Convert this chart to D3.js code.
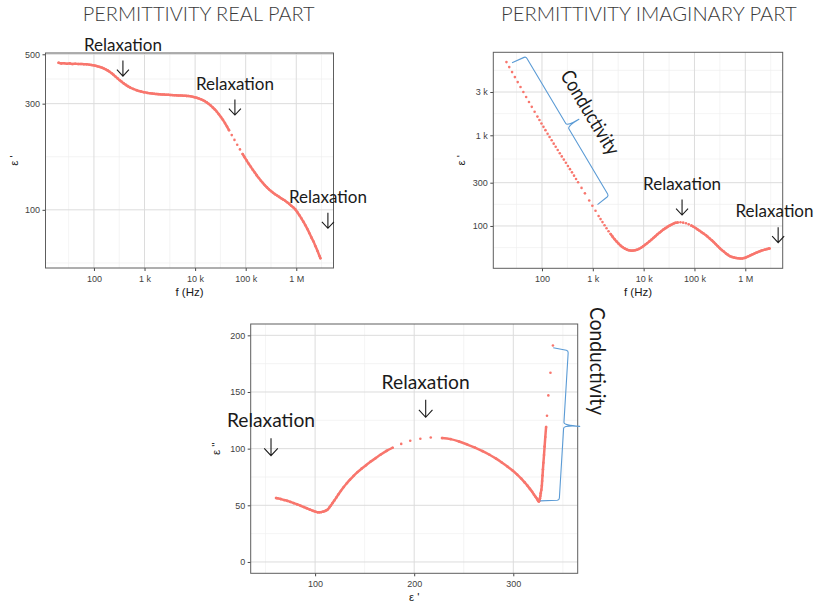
<!DOCTYPE html>
<html>
<head>
<meta charset="utf-8">
<title>Permittivity spectra</title>
<script src="https://cdn.jsdelivr.net/npm/d3@7/dist/d3.min.js"></script>
<style>
  html, body { margin: 0; padding: 0; background: #ffffff; }
  svg { display: block; }
</style>
</head>
<body>
<svg id="chart" width="815" height="608"></svg>
<script>
// ---- measured frequency sweep ----
const frequency = [
  20, 22.7, 25.8, 29.3, 33.3, 37.8, 43, 48.8, 55.5, 63, 71.6, 81.3,
  89.1, 97.7, 107, 117, 129, 141, 155, 170, 186, 204, 224, 245, 269, 295, 324, 355, 389, 427, 468, 513,
  600, 700, 850, 980, 1130,
  1300, 1420, 1550, 1700, 1860, 2040, 2240, 2450, 2690, 2950, 3240, 3550, 3890, 4270, 4680, 5130, 5620,
  6170, 6760, 7410, 8130, 8910, 9770, 10700, 11700, 12900, 14100, 15500, 17000, 18600, 20400, 22400,
  24500, 26900, 29500, 32400, 35500, 38900, 42700, 46800,
  53000, 60000, 68000, 77000, 87000,
  95500, 105000, 115000, 126000, 138000, 151000, 166000, 182000, 200000, 219000, 240000, 263000, 288000,
  316000, 347000, 380000, 417000, 457000, 501000, 550000, 603000, 661000, 724000, 794000, 871000, 955000,
  1050000, 1150000, 1260000, 1380000, 1510000, 1660000, 1820000, 2000000, 2190000, 2400000, 2630000,
  2880000, 3000000
];

// real part of the permittivity, eps'
const epsReal = [
  458, 455, 456, 453.5, 455, 452.5, 453.5, 452, 452.5, 451, 450.5, 449,
  447.9, 446.5, 444.4, 442.0, 438.8, 436.1, 432.3, 428.1, 423.2, 417.5, 410.9, 403.9, 396.4, 389.3, 382.2,
  376.0, 370.0, 364.4, 359.5, 355.1,
  349.3, 344.6, 340.0, 337.5, 335.4,
  334.0, 333.1, 332.3, 331.6, 331.0, 330.4, 329.9, 329.5, 329.1, 328.8, 328.3, 327.7, 327.3, 326.9, 326.6,
  326.3, 326.0, 325.6, 325.1, 324.6, 323.8, 322.4, 320.8, 319.0, 316.8, 314.2, 311.5, 308.0, 303.9, 299.3,
  294.0, 288.4, 282.6, 276.0, 269.0, 261.3, 253.6, 245.3, 236.8, 228.1,
  216.7, 206.2, 196.0, 186.9, 178.2,
  172.1, 166.3, 161.0, 156.1, 151.4, 147.1, 142.8, 138.9, 135.2, 132.0, 128.9, 126.1, 123.6, 121.4, 119.4,
  117.6, 115.9, 114.3, 112.8, 111.3, 109.8, 108.1, 106.3, 104.3, 102.6, 100.5, 97.6, 94.6, 91.6, 88.5,
  85.3, 81.9, 78.5, 75.0, 72.0, 68.6, 65.3, 62.0, 60.6
];

// imaginary part of the permittivity, eps''
const epsImag = [
  6409, 5649, 4973, 4382, 3859, 3403, 2996, 2644, 2330, 2059, 1818, 1608,
  1473, 1349, 1238, 1139, 1040, 959, 880, 809, 746, 687, 633, 585, 539, 498, 458, 423, 390, 359, 330, 304,
  263, 229, 191, 167, 147,
  129, 119, 110.3, 101.8, 94.4, 87.6, 81.5, 76.2, 71.4, 67.2, 63.6, 60.6, 58.2, 56.3, 54.9, 54.0, 53.5,
  53.5, 53.9, 54.7, 55.9, 57.6, 59.6, 61.9, 64.5, 67.4, 70.2, 73.6, 77.1, 80.7, 84.3, 87.8, 91.2, 94.6,
  97.8, 100.9, 103.6, 106.3, 108.4, 109.3,
  109.8, 108.8, 107.0, 104.2, 100.8,
  98.0, 94.8, 91.6, 88.6, 85.4, 82.4, 79.3, 76.0, 72.6, 69.5, 66.2, 62.9, 59.8, 56.8, 54.2, 52.0, 49.8,
  48.0, 46.4, 45.5, 44.9, 44.4, 44.0, 43.8, 43.8, 44.3, 45.2, 46.3, 47.4, 48.5, 49.6, 50.8, 51.9, 53.0,
  53.9, 54.7, 55.5, 56.2, 56.5
];

// ---- axis breaks ----
const freqTicks = [1e2, 1e3, 1e4, 1e5, 1e6];
const freqTickLabels = ["100", "1 k", "10 k", "100 k", "1 M"];
const realTicks = [100, 300, 500];
const realTickLabels = ["100", "300", "500"];
const imagTicks = [100, 300, 1000, 3000];
const imagTickLabels = ["100", "300", "1 k", "3 k"];
const coleLimitsX = [50, 350];
const coleLimitsY = [0, 200];
const coleTicksX = [100, 200, 300];
const coleTicksY = [0, 50, 100, 150, 200];

// ---- annotations, in the data units of each panel ----
const realRelaxations = [{f: 374, v: 399}, {f: 61200, v: 266.7}, {f: 4.22e6, v: 82.6}];
const imagRelaxations = [{f: 57000, v: 132}, {f: 4.43e6, v: 65.5}];
const coleRelaxations = [{x: 55.5, y: 93.8}, {x: 211.6, y: 127.7}];
const imagConductivity = {start: {f: 48.4, v: 7355}, end: {f: 2050, v: 216}, label: {f: 893, v: 1788}};
const coleConductivity = {start: {x: 355.5, y: 186.4}, end: {x: 346.4, y: 54.7}, label: {x: 384.5, y: 177.3}};

// ---- presentation ----
const W = 815;
const POINT = "#F8766D";
const BRACE = "#5B9BD5";
const INK = "#1a1a1a";
const SLIDE_FONT = "Lato, 'Open Sans', 'Noto Sans', sans-serif";
const AXIS_FONT = "'Liberation Sans', Arial, sans-serif";

const layout = {
  real: {x0: 45.5, x1: 333.5, y0: 53, y1: 268, titleGap: 32},
  imag: {x0: 493.3, x1: 782.7, y0: 52.3, y1: 268.3, titleGap: 32},
  cole: {x0: 250.7, x1: 577.7, y0: 324, y1: 573.3, titleGap: 34.5}
};

const svg = d3.select("#chart");
const defs = svg.append("defs");

function expandLog(values) {
  const lo = Math.log10(d3.min(values)), hi = Math.log10(d3.max(values));
  const pad = (hi - lo) * 0.05;
  return [Math.pow(10, lo - pad), Math.pow(10, hi + pad)];
}
function expandLin([a, b]) {
  const pad = (b - a) * 0.05;
  return [a - pad, b + pad];
}

// minor breaks half-way between majors (in transformed space), extended one step past each end
function minorBreaks(majors, domain, fwd, inv) {
  const b = majors.map(fwd);
  const step = b[1] - b[0];
  const t = domain.map(fwd);
  const lo = Math.min(t[0], t[1]), hi = Math.max(t[0], t[1]);
  const ext = b.slice();
  if (lo < b[0]) ext.unshift(b[0] - step);
  if (hi > b[b.length - 1]) ext.push(b[b.length - 1] + step);
  return d3.pairs(ext, (a, c) => (a + c) / 2).filter(m => m > lo && m < hi).map(inv);
}
const LOG = [Math.log10, v => Math.pow(10, v)];
const LIN = [v => v, v => v];

function drawFrame(key, x, y, spec) {
  const L = layout[key];
  const g = svg.append("g").attr("class", "frame-" + key);

  const xMinor = minorBreaks(spec.xTicks, x.domain(), ...spec.xT);
  const yMinor = minorBreaks(spec.yTicks, y.domain(), ...spec.yT);

  const vLines = (vals, color, w) => g.append("g").selectAll("line").data(vals).join("line")
    .attr("x1", d => x(d)).attr("x2", d => x(d)).attr("y1", L.y0).attr("y2", L.y1)
    .attr("stroke", color).attr("stroke-width", w);
  const hLines = (vals, color, w) => g.append("g").selectAll("line").data(vals).join("line")
    .attr("y1", d => y(d)).attr("y2", d => y(d)).attr("x1", L.x0).attr("x2", L.x1)
    .attr("stroke", color).attr("stroke-width", w);
  vLines(xMinor, "#EFEFEF", 0.7);
  hLines(yMinor, "#EFEFEF", 0.7);
  vLines(spec.xTicks, "#DCDCDC", 1);
  hLines(spec.yTicks, "#DCDCDC", 1);

  const xAxis = g.append("g").attr("transform", `translate(0,${L.y1})`)
    .call(d3.axisBottom(x).tickValues(spec.xTicks).tickFormat((d, i) => spec.xLabels[i])
      .tickSize(3).tickSizeOuter(0).tickPadding(4.5));
  const yAxis = g.append("g").attr("transform", `translate(${L.x0},0)`)
    .call(d3.axisLeft(y).tickValues(spec.yTicks).tickFormat((d, i) => spec.yLabels[i])
      .tickSize(3).tickSizeOuter(0).tickPadding(2.5));
  [xAxis, yAxis].forEach(a => {
    a.select(".domain").remove();
    a.selectAll(".tick line").attr("stroke", "#333333").attr("stroke-width", 0.9);
    a.selectAll(".tick text").attr("font-family", AXIS_FONT).attr("font-size", 9).attr("fill", "#3f3f3f");
  });

  g.append("text").attr("x", (L.x0 + L.x1) / 2).attr("y", L.y1 + 27.5)
    .attr("text-anchor", "middle").attr("font-family", AXIS_FONT).attr("font-size", 11.5)
    .attr("fill", INK).text(spec.xTitle);
  g.append("text")
    .attr("transform", `translate(${L.x0 - L.titleGap},${(L.y0 + L.y1) / 2}) rotate(-90)`)
    .attr("text-anchor", "middle").attr("dy", "0.35em").attr("font-family", AXIS_FONT)
    .attr("font-size", 11.5).attr("fill", INK).text(spec.yTitle);

  defs.append("clipPath").attr("id", "clip-" + key).append("rect")
    .attr("x", L.x0).attr("y", L.y0).attr("width", L.x1 - L.x0).attr("height", L.y1 - L.y0);
  const marks = svg.append("g").attr("clip-path", `url(#clip-${key})`);
  svg.append("rect").attr("x", L.x0).attr("y", L.y0).attr("width", L.x1 - L.x0)
    .attr("height", L.y1 - L.y0).attr("fill", "none").attr("stroke", "#5E5E5E").attr("stroke-width", 1);
  return marks;
}

// readings of one sweep: closely spaced readings merge into a trace; readings stay
// single points where they sit far apart on screen, or where the frequency step is
// coarse and the on-screen gap exceeds coarseGap
function drawSweep(g, pts, {maxGap, coarseStep, coarseGap}) {
  const runs = [];
  let cur = [pts[0]];
  for (let i = 1; i < pts.length; i++) {
    const a = pts[i - 1], b = pts[i];
    const step = Math.log10(b.f) - Math.log10(a.f);
    const gap = Math.hypot(b.px - a.px, b.py - a.py);
    const split = gap > maxGap || (step > coarseStep && gap > coarseGap);
    if (split) { runs.push(cur); cur = [b]; } else cur.push(b);
  }
  runs.push(cur);
  const line = d3.line().x(d => d.px).y(d => d.py).curve(d3.curveCatmullRom.alpha(0.5));
  g.append("g").selectAll("path").data(runs.filter(r => r.length > 1)).join("path")
    .attr("d", line).attr("fill", "none").attr("stroke", POINT).attr("stroke-width", 2.5)
    .attr("stroke-linecap", "round").attr("stroke-linejoin", "round");
  g.append("g").selectAll("circle").data(pts).join("circle")
    .attr("cx", d => d.px).attr("cy", d => d.py).attr("r", 1.3).attr("fill", POINT);
}

function relaxationMark(px, py, s) {
  const g = svg.append("g");
  const len = 15.5 * s, hw = 6 * s, hh = 6.5 * s;
  const width = 78 * s;
  g.append("path")
    .attr("d", `M${px},${py - len}V${py}M${px - hw},${py - hh}L${px},${py}L${px + hw},${py - hh}`)
    .attr("fill", "none").attr("stroke", INK).attr("stroke-width", 1.1);
  g.append("text").attr("x", Math.min(px, W - 1.5 - width / 2)).attr("y", py - 25.3 * s)
    .attr("text-anchor", "middle")
    .attr("font-family", SLIDE_FONT).attr("font-size", 17 * s)
    .attr("textLength", width).attr("lengthAdjust", "spacingAndGlyphs")
    .attr("fill", INK).text("Relaxation");
}

function brace(p1, p2, hook1, hook2, spike) {
  const dx = p2[0] - p1[0], dy = p2[1] - p1[1];
  const len = Math.hypot(dx, dy);
  const U = [dx / len, dy / len], N = [U[1], -U[0]];
  const pt = (u, v) => [p1[0] + u * U[0] + v * N[0], p1[1] + u * U[1] + v * N[1]];
  const m = len / 2;
  const p = d3.path();
  p.moveTo(...pt(-2, -hook1));
  p.lineTo(...pt(-0.4, -2));
  p.quadraticCurveTo(...pt(0, 0), ...pt(2, 0));
  p.lineTo(...pt(m - 3, 0));
  p.quadraticCurveTo(...pt(m, 0), ...pt(m, spike));
  p.quadraticCurveTo(...pt(m, 0), ...pt(m + 3, 0));
  p.lineTo(...pt(len - 2, 0));
  p.quadraticCurveTo(...pt(len, 0), ...pt(len + 0.4, -2));
  p.lineTo(...pt(len + 2, -hook2));
  svg.append("path").attr("d", p.toString()).attr("fill", "none")
    .attr("stroke", BRACE).attr("stroke-width", 1.1).attr("stroke-linejoin", "round");
}

function rotatedLabel(cx, cy, angle, size, length, text) {
  svg.append("text").attr("transform", `translate(${cx},${cy}) rotate(${angle})`)
    .attr("text-anchor", "middle").attr("dy", "0.35em")
    .attr("font-family", SLIDE_FONT).attr("font-size", size)
    .attr("textLength", length).attr("lengthAdjust", "spacingAndGlyphs")
    .attr("fill", INK).text(text);
}

const records = frequency.map((f, i) => ({f, re: epsReal[i], im: epsImag[i]}));

// ---- slide titles ----
svg.append("text").attr("x", 82.7).attr("y", 20.5).attr("font-family", SLIDE_FONT)
  .attr("font-weight", 300).attr("font-size", 20).attr("fill", "#3a3a3a")
  .attr("textLength", 232).attr("lengthAdjust", "spacingAndGlyphs").text("PERMITTIVITY REAL PART");
svg.append("text").attr("x", 501).attr("y", 20.5).attr("font-family", SLIDE_FONT)
  .attr("font-weight", 300).attr("font-size", 20).attr("fill", "#3a3a3a")
  .attr("textLength", 295.7).attr("lengthAdjust", "spacingAndGlyphs").text("PERMITTIVITY IMAGINARY PART");

// ---- real part vs frequency ----
const fDomain = expandLog(frequency);
const xRe = d3.scaleLog().domain(fDomain).range([layout.real.x0, layout.real.x1]);
const yRe = d3.scaleLog().domain(expandLog(epsReal)).range([layout.real.y1, layout.real.y0]);
const gRe = drawFrame("real", xRe, yRe, {
  xTicks: freqTicks, xLabels: freqTickLabels, yTicks: realTicks, yLabels: realTickLabels,
  xT: LOG, yT: LOG, xTitle: "f (Hz)", yTitle: "\u03b5 '"
});
drawSweep(gRe, records.map(d => ({f: d.f, px: xRe(d.f), py: yRe(d.re)})),
  {maxGap: Infinity, coarseStep: 0.05, coarseGap: 5});
realRelaxations.forEach(a => relaxationMark(xRe(a.f), yRe(a.v), 1));

// ---- imaginary part vs frequency ----
const xIm = d3.scaleLog().domain(fDomain).range([layout.imag.x0, layout.imag.x1]);
const yIm = d3.scaleLog().domain(expandLog(epsImag)).range([layout.imag.y1, layout.imag.y0]);
const gIm = drawFrame("imag", xIm, yIm, {
  xTicks: freqTicks, xLabels: freqTickLabels, yTicks: imagTicks, yLabels: imagTickLabels,
  xT: LOG, yT: LOG, xTitle: "f (Hz)", yTitle: "\u03b5 '"
});
drawSweep(gIm, records.map(d => ({f: d.f, px: xIm(d.f), py: yIm(d.im)})),
  {maxGap: 3.5, coarseStep: 0.05, coarseGap: 0});
imagRelaxations.forEach(a => relaxationMark(xIm(a.f), yIm(a.v), 1));
brace([xIm(imagConductivity.start.f), yIm(imagConductivity.start.v)],
      [xIm(imagConductivity.end.f), yIm(imagConductivity.end.v)], 15, 14.2, 13.5);
rotatedLabel(xIm(imagConductivity.label.f), yIm(imagConductivity.label.v), 59, 20, 95, "Conductivity");

// ---- Cole-Cole: eps'' against eps' ----
const xCc = d3.scaleLinear().domain(expandLin(coleLimitsX)).range([layout.cole.x0, layout.cole.x1]);
const yCc = d3.scaleLinear().domain(expandLin(coleLimitsY)).range([layout.cole.y1, layout.cole.y0]);
const gCc = drawFrame("cole", xCc, yCc, {
  xTicks: coleTicksX, xLabels: coleTicksX.map(String), yTicks: coleTicksY, yLabels: coleTicksY.map(String),
  xT: LIN, yT: LIN, xTitle: "\u03b5 '", yTitle: "\u03b5 ''"
});
const inLimits = records.filter(d => d.re >= coleLimitsX[0] && d.re <= coleLimitsX[1] &&
                                     d.im >= coleLimitsY[0] && d.im <= coleLimitsY[1]);
drawSweep(gCc, inLimits.map(d => ({f: d.f, px: xCc(d.re), py: yCc(d.im)})),
  {maxGap: 10.5, coarseStep: 0.05, coarseGap: 0});
coleRelaxations.forEach(a => relaxationMark(xCc(a.x), yCc(a.y), 1.13));
brace([xCc(coleConductivity.start.x), yCc(coleConductivity.start.y)],
      [xCc(coleConductivity.end.x), yCc(coleConductivity.end.y)], 15.2, 19, 16);
rotatedLabel(xCc(coleConductivity.label.x), yCc(coleConductivity.label.y), 90, 21, 108, "Conductivity");
</script>
</body>
</html>
